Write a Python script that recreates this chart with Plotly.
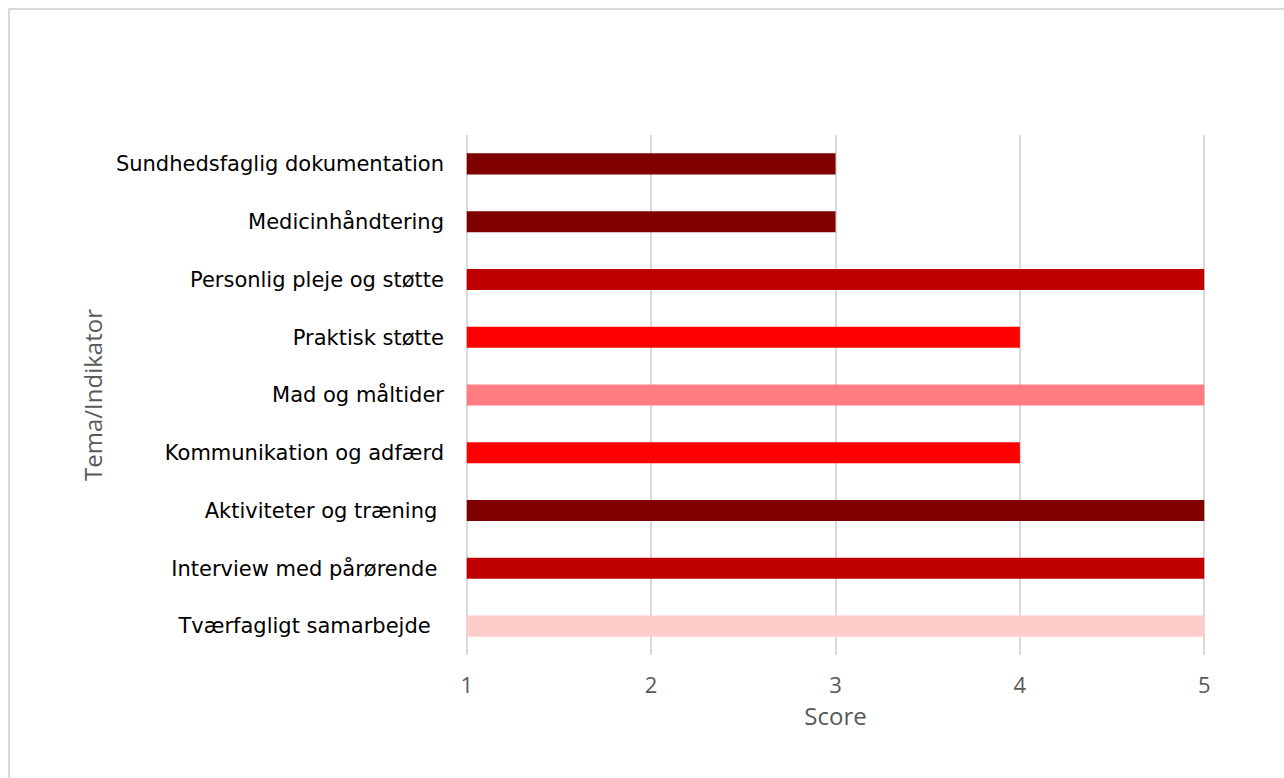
import plotly.graph_objects as go

categories = [
    "Sundhedsfaglig dokumentation",
    "Medicinhåndtering",
    "Personlig pleje og støtte",
    "Praktisk støtte",
    "Mad og måltider",
    "Kommunikation og adfærd",
    "Aktiviteter og træning\u00a0",
    "Interview med pårørende\u00a0",
    "Tværfagligt samarbejde\u00a0\u00a0",
]
scores = [3, 3, 5, 4, 5, 4, 5, 5, 5]
colors = ["#800000", "#800000", "#C00000", "#FF0000", "#FF7C80",
          "#FF0000", "#800000", "#C00000", "#FFCCCC"]
x_ticks = [1, 2, 3, 4, 5]
axis_min = 1

W, H = 1284, 778
L, R, T, B = 464, 77, 135, 123
pw, ph = W - L - R, H - T - B

fig = go.Figure(go.Bar(
    y=categories,
    x=[s - axis_min for s in scores],
    base=axis_min,
    orientation="h",
    marker=dict(color=colors, line=dict(width=0)),
    hovertemplate="%{y}: %{customdata}<extra></extra>",
    customdata=scores,
))

fig.update_layout(
    width=W, height=H,
    margin=dict(l=L, r=R, t=T, b=B),
    paper_bgcolor="white", plot_bgcolor="white",
    bargap=0.636,
    showlegend=False,
    font=dict(family="DejaVu Sans", color="#000000"),
    xaxis=dict(
        range=[0.985, 5.015], tickvals=x_ticks, ticktext=[str(v) for v in x_ticks],
        showgrid=True, gridcolor="#D9D9D9", gridwidth=2,
        zeroline=False, showline=False, ticks="",
        ticklabelstandoff=15,
        tickfont=dict(family="Open Sans", size=22, color="#595959"),
        title=dict(text="Score", font=dict(family="Open Sans", size=24, color="#595959"), standoff=6),
    ),
    yaxis=dict(
        autorange="reversed", showgrid=False, zeroline=False, showline=False,
        ticks="", ticklabelstandoff=19,
        tickfont=dict(family="DejaVu Sans", size=21, color="#000000"),
        title=dict(text="Tema/Indikator", font=dict(family="Open Sans", size=24, color="#595959"), standoff=6),
    ),
    shapes=[dict(
        type="rect", xref="paper", yref="paper",
        x0=(9 - L) / pw, x1=(1300 - L) / pw,
        y0=(H - B - 800) / ph, y1=(H - B - 9) / ph,
        line=dict(color="#D9D9D9", width=2), fillcolor="rgba(0,0,0,0)", layer="below",
    )],
)

fig.write_html("out.html")
